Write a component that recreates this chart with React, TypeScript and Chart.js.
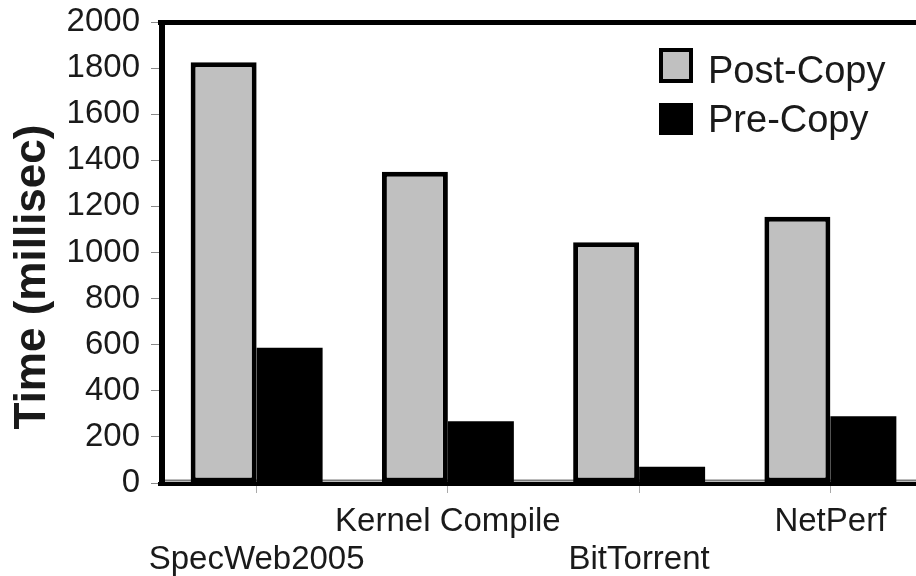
import React, { useEffect, useRef } from "react";
import { Chart, registerables } from "chart.js";

Chart.register(...registerables);

const categories = ["SpecWeb2005", "Kernel Compile", "BitTorrent", "NetPerf"];
const postCopy = [1825, 1350, 1045, 1155];
const preCopy = [587, 268, 70, 290];
const yTicksMax = 2000;
const yStep = 200;
const yTitle = "Time (millisec)";

const FONT = "'Liberation Sans', Arial, sans-serif";
const TEXT = "#1a1a1a";

const framePlugin = {
  id: "frame",
  beforeDatasetsDraw(chart: any) {
    const { ctx, chartArea } = chart;
    ctx.save();
    ctx.strokeStyle = "#7a7a7a";
    ctx.lineWidth = 2;
    ctx.beginPath();
    ctx.moveTo(chartArea.left, chartArea.bottom - 2.5);
    ctx.lineTo(chart.width, chartArea.bottom - 2.5);
    ctx.stroke();
    ctx.restore();
  },
  afterDraw(chart: any) {
    const { ctx, chartArea } = chart;
    ctx.save();
    ctx.strokeStyle = "#000";
    // top
    ctx.lineWidth = 5;
    ctx.beginPath();
    ctx.moveTo(chartArea.left - 3, chartArea.top + 0.5);
    ctx.lineTo(chart.width, chartArea.top + 0.5);
    ctx.stroke();
    // bottom
    ctx.lineWidth = 4;
    ctx.beginPath();
    ctx.moveTo(chartArea.left - 3, chartArea.bottom + 1);
    ctx.lineTo(chart.width, chartArea.bottom + 1);
    ctx.stroke();
    // left
    ctx.lineWidth = 6;
    ctx.beginPath();
    ctx.moveTo(chartArea.left + 1, chartArea.top - 2);
    ctx.lineTo(chartArea.left + 1, chartArea.bottom + 3);
    ctx.stroke();

    // y title
    ctx.fillStyle = TEXT;
    ctx.font = `bold 44px ${FONT}`;
    ctx.textAlign = "center";
    ctx.textBaseline = "middle";
    ctx.translate(33, 277);
    ctx.rotate(-Math.PI / 2);
    ctx.fillText(yTitle, 0, 0);
    ctx.restore();

    // legend
    ctx.save();
    const ds = chart.data.datasets;
    const boxes = [
      { x: 659, y: 48, w: 34, h: 35, base: 83 },
      { x: 659, y: 103, w: 34, h: 32, base: 132 },
    ];
    ds.forEach((d: any, i: number) => {
      const b = boxes[i];
      ctx.fillStyle = "#000";
      ctx.fillRect(b.x, b.y, b.w, b.h);
      if (d.borderWidth > 0) {
        ctx.fillStyle = d.backgroundColor;
        ctx.fillRect(b.x + 4, b.y + 4, b.w - 8, b.h - 8);
      }
      ctx.fillStyle = TEXT;
      ctx.font = `38px ${FONT}`;
      ctx.textAlign = "left";
      ctx.textBaseline = "alphabetic";
      ctx.fillText(d.label, 708, b.base);
    });
    ctx.restore();
  },
};

export default function App() {
  const ref = useRef<HTMLCanvasElement | null>(null);
  useEffect(() => {
    if (!ref.current) return;
    const chart = new Chart(ref.current, {
      type: "bar",
      data: {
        labels: categories,
        datasets: [
          {
            label: "Post-Copy",
            data: postCopy,
            backgroundColor: "#c0c0c0",
            borderColor: "#000",
            borderWidth: 5,
            borderSkipped: false,
          },
          {
            label: "Pre-Copy",
            data: preCopy,
            backgroundColor: "#000",
            borderColor: "#000",
            borderWidth: 0,
          },
        ],
      },
      options: {
        animation: false,
        responsive: false,
        maintainAspectRatio: false,
        layout: { padding: { top: 22, right: 14, left: 0, bottom: 0 } },
        plugins: {
          legend: { display: false },
          tooltip: { enabled: false },
        },
        datasets: {
          bar: { categoryPercentage: 0.69, barPercentage: 1 },
        },
        scales: {
          x: {
            border: { display: false },
            grid: {
              drawOnChartArea: false,
              drawTicks: true,
              tickLength: 10,
              tickColor: "#aaaaaa",
              offset: false,
            },
            ticks: {
              padding: 10,
              autoSkip: false,
              maxRotation: 0,
              color: TEXT,
              font: { family: FONT, size: 33, lineHeight: 1.145 },
              callback: function (this: any, _v: any, i: number) {
                const l = categories[i];
                return i % 2 === 0 ? ["", l] : l;
              },
            },
            afterFit: (s: any) => {
              s.height = 93;
              s.paddingLeft = 0;
              s.paddingRight = 0;
            },
          },
          y: {
            min: 0,
            max: yTicksMax,
            border: { display: false },
            grid: {
              drawOnChartArea: false,
              drawTicks: true,
              tickLength: 10,
              tickColor: "#888888",
            },
            ticks: {
              stepSize: yStep,
              padding: 11,
              color: TEXT,
              font: { family: FONT, size: 33 },
              callback: (v: any) => String(v),
            },
            afterFit: (s: any) => {
              s.width = 161;
              s.paddingTop = 0;
              s.paddingBottom = 0;
            },
          },
        },
      },
      plugins: [framePlugin],
    });
    return () => chart.destroy();
  }, []);
  return (
    <div
      style={{
        position: "fixed",
        left: 0,
        top: 0,
        width: 916,
        height: 576,
        overflow: "hidden",
        background: "#fff",
      }}
    >
      <canvas ref={ref} width={940} height={576} style={{ display: "block", width: 940, height: 576 }} />
    </div>
  );
}
